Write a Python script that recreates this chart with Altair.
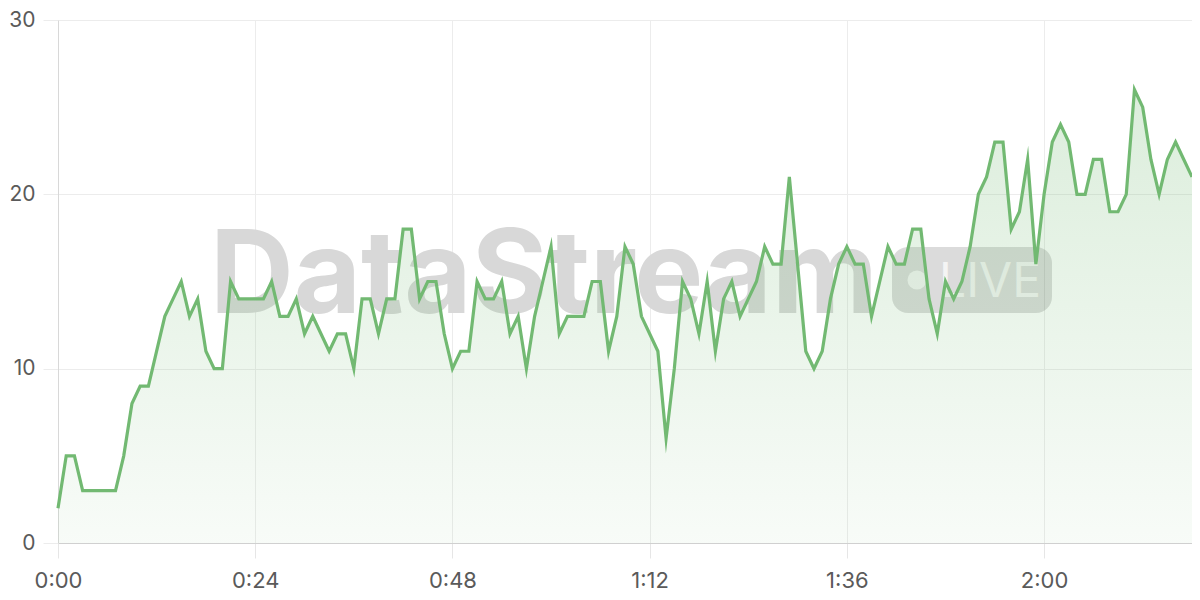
import altair as alt
import pandas as pd

# minute index (0:00 .. 2:18) and observed counts
minutes = list(range(139))
values = [
    2, 5, 5, 3, 3, 3, 3, 3, 5, 8,
    9, 9, 11, 13, 14, 15, 13, 14, 11, 10,
    10, 15, 14, 14, 14, 14, 15, 13, 13, 14,
    12, 13, 12, 11, 12, 12, 10, 14, 14, 12,
    14, 14, 18, 18, 14, 15, 15, 12, 10, 11,
    11, 15, 14, 14, 15, 12, 13, 10, 13, 15,
    17, 12, 13, 13, 13, 15, 15, 11, 13, 17,
    16, 13, 12, 11, 6, 10, 15, 14, 12, 15,
    11, 14, 15, 13, 14, 15, 17, 16, 16, 21,
    16, 11, 10, 11, 14, 16, 17, 16, 16, 13,
    15, 17, 16, 16, 18, 18, 14, 12, 15, 14,
    15, 17, 20, 21, 23, 23, 18, 19, 22, 16,
    20, 23, 24, 23, 20, 20, 22, 22, 19, 19,
    20, 26, 25, 22, 20, 22, 23, 22, 21,
]
x_ticks = [0, 24, 48, 72, 96, 120]
y_ticks = [0, 10, 20, 30]

df = pd.DataFrame({"t": minutes, "v": values})

FONT = "Inter"
GREEN = "#72b972"

x_enc = alt.X(
    "t:Q",
    scale=alt.Scale(domain=[0, 138], nice=False, zero=False),
    axis=alt.Axis(
        values=x_ticks,
        title=None,
        labelExpr="floor(datum.value/60) + ':' + (datum.value % 60 < 10 ? '0' : '') + (datum.value % 60)",
        grid=True,
        gridColor="#ececec",
        tickColor="#e6e6e6",
        tickSize=15,
        domainColor="#d0d0d0",
        labelBaseline="alphabetic",
        labelPadding=29,
        labelFlush=False,
        labelFontSize=22,
        labelFont=FONT,
        labelColor="#5a5a5a",
    ),
)
y_enc = alt.Y(
    "v:Q",
    scale=alt.Scale(domain=[0, 30], nice=False),
    axis=alt.Axis(
        values=y_ticks,
        title=None,
        grid=True,
        gridColor="#ececec",
        tickColor="#ececec",
        tickSize=15,
        domainColor="#d8d8d8",
        labelPadding=8,
        labelFlush=False,
        labelFontSize=21,
        labelFont=FONT,
        labelColor="#5a5a5a",
    ),
)

wm_text = alt.Chart(pd.DataFrame({"s": ["DataStream"]})).mark_text(
    align="left", baseline="alphabetic", fontSize=116, fontWeight="bold",
    font=FONT, color="#d8d8d8",
).encode(text="s:N", x=alt.value(152), y=alt.value(293))

badge = alt.Chart(pd.DataFrame({"s": ["badge"]})).mark_rect(
    cornerRadius=16, color="#000000", opacity=0.14,
).encode(x=alt.value(834), x2=alt.value(994), y=alt.value(227), y2=alt.value(293))

dot = alt.Chart(pd.DataFrame({"s": ["dot"]})).mark_circle(
    color="#f4f4f4", opacity=1, size=360,
).encode(x=alt.value(859), y=alt.value(260))

live = alt.Chart(pd.DataFrame({"s": ["LIVE"]})).mark_text(
    align="left", baseline="alphabetic", fontSize=48, font=FONT,
    color="#f4f4f4",
).encode(text="s:N", x=alt.value(881), y=alt.value(277))

area = alt.Chart(df).mark_area(
    color=alt.Gradient(
        gradient="linear",
        stops=[
            alt.GradientStop(color="rgba(114,185,114,0.25)", offset=0),
            alt.GradientStop(color="rgba(114,185,114,0.05)", offset=1),
        ],
        x1=0, x2=0, y1=0, y2=1,
    ),
).encode(x=x_enc, y=y_enc)

line = alt.Chart(df).mark_line(
    color=GREEN, strokeWidth=3.2, strokeJoin="miter", strokeMiterLimit=10,
).encode(x=x_enc, y=y_enc)

chart = alt.layer(wm_text, badge, dot, live, area, line).properties(
    width=1134,
    height=523,
    autosize=alt.AutoSizeParams(type="none"),
    padding={"left": 50, "top": 12, "right": 0, "bottom": 50},
).configure_view(strokeWidth=0)

chart.save("out.html", embed_options={"renderer": "svg", "actions": False})
